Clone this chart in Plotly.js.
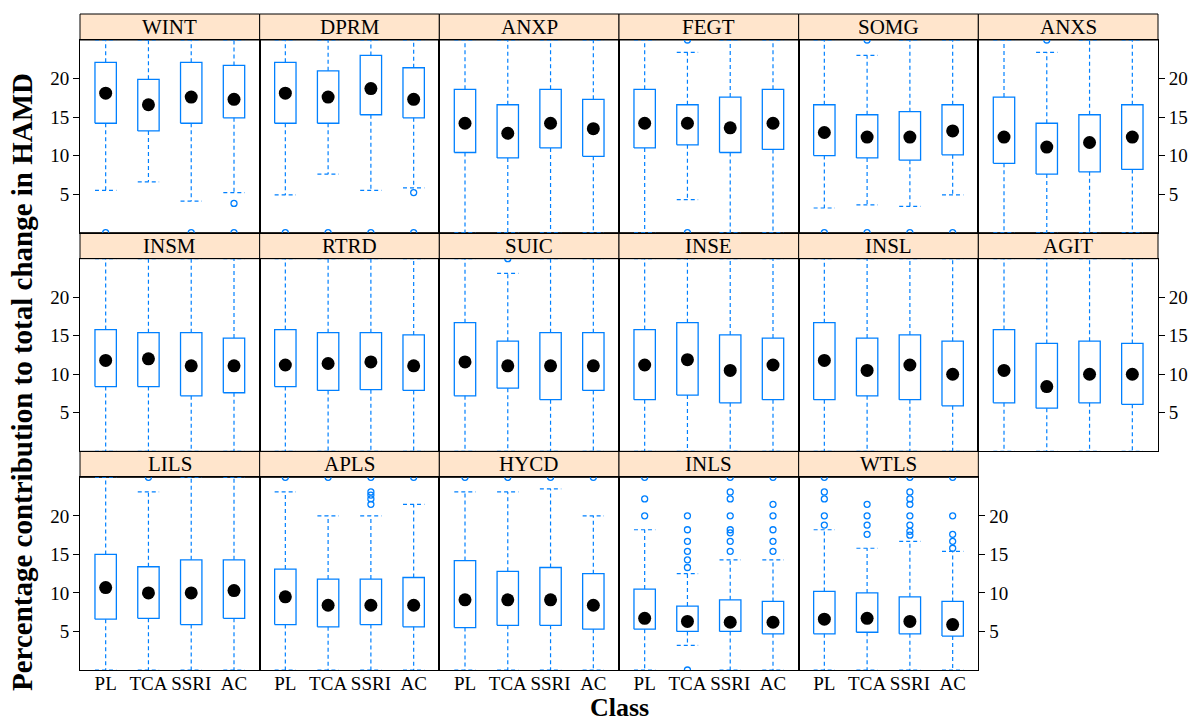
<!DOCTYPE html>
<html><head><meta charset="utf-8">
<script src="https://cdn.plot.ly/plotly-3.0.1.min.js"></script>
<style>html,body{margin:0;padding:0;background:#fff}#chart{width:1195px;height:722px}</style>
</head><body><div id="chart"></div>
<script>
const panels = ['WINT','DPRM','ANXP','FEGT','SOMG','ANXS','INSM','RTRD','SUIC','INSE','INSL','AGIT','LILS','APLS','HYCD','INLS','WTLS'];
const classes = ['PL','TCA','SSRI','AC'];
const yTicks = [5,10,15,20];

const q1 = [
  [14.2,13.2,14.2,14.9],[14.2,14.2,15.3,14.9],[10.4,9.7,11.0,9.9],[11.0,11.4,10.4,10.8],[10.0,9.7,9.4,10.1],[9.0,7.6,7.9,8.2],
  [8.4,8.4,7.2,7.6],[8.4,7.9,8.0,7.9],[7.2,8.2,6.7,7.9],[6.7,7.3,6.3,6.7],[6.7,7.2,6.7,5.9],[6.3,5.6,6.3,6.1],
  [6.6,6.7,5.9,6.7],[5.9,5.6,5.9,5.6],[5.5,5.8,5.8,5.3],[5.3,5.0,5.0,4.7],[4.7,4.9,4.7,4.4]
];
const median = [
  [18.1,16.6,17.6,17.3],[18.1,17.6,18.7,17.3],[14.2,12.9,14.2,13.5],[14.2,14.2,13.6,14.2],[13.0,12.4,12.4,13.2],[12.4,11.1,11.7,12.4],
  [11.8,12.0,11.1,11.1],[11.2,11.4,11.6,11.1],[11.6,11.1,11.1,11.1],[11.2,11.9,10.5,11.2],[11.8,10.5,11.2,10.0],[10.5,8.4,10.0,10.0],
  [10.7,10.0,10.0,10.3],[9.5,8.4,8.4,8.4],[9.1,9.1,9.1,8.4],[6.7,6.3,6.2,6.2],[6.6,6.7,6.3,5.9]
];
const q3 = [
  [22.1,19.9,22.1,21.7],[22.1,21.0,23.0,21.4],[18.6,16.6,18.6,17.3],[18.6,16.6,17.6,18.6],[16.6,15.3,15.7,16.6],[17.6,14.2,15.3,16.6],
  [15.8,15.4,15.4,14.7],[15.8,15.4,15.4,15.1],[16.7,14.3,15.4,15.4],[15.8,16.7,15.1,14.7],[16.7,14.7,15.1,14.3],[15.8,14.0,14.3,14.0],
  [15.0,13.4,14.3,14.3],[13.1,11.8,11.8,12.0],[14.2,12.8,13.3,12.5],[10.5,8.3,9.1,8.9],[10.2,10.0,9.5,8.9]
];
const lowerWhisker = [
  [5.5,6.6,4.1,5.2],[4.9,7.6,5.5,5.8],[0,0,0,0],[0,4.3,0,0],[3.2,3.6,3.4,4.9],[0,0,0,0],
  [0,0,0,0],[0,0,0,0],[0,0,0,0],[0,0,0,0],[0,0,0,0],[0,0,0,0],
  [0,0,0,0],[0,0,0,0],[0,0,0,0],[0,3.2,0,0],[0,0,0,0]
];
const upperWhisker = [
  [25,25,25,25],[25,25,25,25],[25,25,25,25],[25,23.4,25,25],[25,23.0,25,25],[25,23.4,25,25],
  [25,25,25,25],[25,25,25,25],[25,23.1,25,25],[25,25,25,25],[25,25,25,25],[25,25,25,25],
  [25,23.1,25,25],[23.1,20.0,20.0,21.5],[23.1,23.1,23.5,20.0],[18.2,12.5,14.3,14.3],[18.2,15.8,16.7,15.4]
];
const outliers = [
  [[0],[],[0],[3.8,0]],
  [[0],[0],[0],[5.2,0]],
  [[],[],[],[]],
  [[],[25,0],[],[]],
  [[0],[25,0],[0],[0]],
  [[],[25],[],[]],
  [[],[],[],[]],
  [[],[],[],[]],
  [[],[25],[],[]],
  [[],[],[],[]],
  [[],[],[],[]],
  [[],[],[],[]],
  [[],[25],[],[]],
  [[25],[25],[21.5,22.2,22.7,23.1,25],[25]],
  [[25],[25],[25],[25]],
  [[20.0,22.2,25],[13.3,14.3,15.4,16.7,18.2,20.0,0],[15.4,16.7,17.8,18.2,20.0,22.2,23.1,25],[15.4,16.7,18.2,20.0,21.5,25]],
  [[18.8,20.0,22.2,23.1,25],[17.6,18.8,20.0,21.5],[17.5,18.0,18.8,20.0,21.5,22.2,23.1,25],[15.8,16.7,17.6,20.0,25]]
];

const BLUE = '#0080ff';
const FONT = '"Liberation Serif", "Times New Roman", serif';
const HALF = 0.25;
const NCOL = 6, NROW = 3;
const ML = 80, MR = 37, MT = 14, MB = 52, WIDTH = 1195, HEIGHT = 722;
const plotH = HEIGHT - MT - MB;
const stripH = 26 / plotH;
const rowH = 1 / NROW;

const traces = [];
const layout = {
  width: WIDTH, height: HEIGHT,
  margin: {l: ML, r: MR, t: MT, b: MB, pad: 0},
  paper_bgcolor: '#fff', plot_bgcolor: '#fff',
  showlegend: false,
  font: {family: FONT, size: 19, color: '#000'},
  shapes: [], annotations: []
};

panels.forEach((name, p) => {
  const r = Math.floor(p / NCOL), c = p % NCOL;
  const suf = p === 0 ? '' : String(p + 1);
  const xa = 'x' + suf, ya = 'y' + suf;
  const bx = [], by = [], wx = [], wy = [], mx = [], my = [], ox = [], oy = [];
  classes.forEach((cl, i) => {
    const x = i + 1;
    const a = q1[p][i], b = q3[p][i], lo = lowerWhisker[p][i], hi = upperWhisker[p][i];
    bx.push(x - HALF, x + HALF, x + HALF, x - HALF, x - HALF, null);
    by.push(a, a, b, b, a, null);
    wx.push(x, x, null, x, x, null, x - HALF, x + HALF, null, x - HALF, x + HALF, null);
    wy.push(b, hi, null, a, lo, null, hi, hi, null, lo, lo, null);
    mx.push(x); my.push(median[p][i]);
    outliers[p][i].forEach(v => { ox.push(x); oy.push(v); });
  });
  traces.push({type: 'scatter', mode: 'lines', x: wx, y: wy, xaxis: xa, yaxis: ya,
    line: {color: BLUE, width: 1.2, dash: '4px,3px'}, hoverinfo: 'skip'});
  traces.push({type: 'scatter', mode: 'lines', x: bx, y: by, xaxis: xa, yaxis: ya,
    line: {color: BLUE, width: 1.3}, hoverinfo: 'skip'});
  traces.push({type: 'scatter', mode: 'markers', x: ox, y: oy, xaxis: xa, yaxis: ya,
    marker: {symbol: 'circle-open', size: 6, color: BLUE, line: {width: 1.3, color: BLUE}}, hoverinfo: 'skip'});
  traces.push({type: 'scatter', mode: 'markers', x: mx, y: my, xaxis: xa, yaxis: ya,
    marker: {symbol: 'circle', size: 13, color: '#000'}, hoverinfo: 'skip'});

  const y0 = 1 - (r + 1) * rowH;
  const y1 = y0 + rowH - stripH;
  const x0 = c / NCOL, x1 = (c + 1) / NCOL;
  const showX = (r === NROW - 1);
  const isLastInRow = (c === NCOL - 1) || (p === panels.length - 1);
  layout['xaxis' + suf] = {
    domain: [x0, x1], anchor: ya, range: [0.4, 4.6],
    tickvals: [1, 2, 3, 4], ticktext: classes,
    showticklabels: showX, ticks: '', ticklabelstandoff: -4,
    showgrid: false, zeroline: false,
    showline: true, mirror: true, linecolor: '#000', linewidth: 1,
    tickfont: {family: FONT, size: 19, color: '#000'}, fixedrange: true
  };
  const yax = {
    domain: [y0, y1], anchor: xa, range: [0, 25],
    tickvals: yTicks, ticktext: yTicks.map(String),
    showgrid: false, zeroline: false,
    showline: true, mirror: true, linecolor: '#000', linewidth: 1,
    tickfont: {family: FONT, size: 19, color: '#000'}, fixedrange: true,
    showticklabels: false, ticks: ''
  };
  if (c === 0) { yax.side = 'left'; yax.showticklabels = true; yax.ticks = 'outside'; yax.ticklen = 6; yax.tickcolor = '#000'; }
  else if (isLastInRow) { yax.side = 'right'; yax.showticklabels = true; yax.ticks = 'outside'; yax.ticklen = 6; yax.tickcolor = '#000'; }
  layout['yaxis' + suf] = yax;

  layout.shapes.push({type: 'rect', xref: 'paper', yref: 'paper', x0: x0, x1: x1, y0: y1, y1: y1 + stripH,
    fillcolor: '#ffe5cc', line: {color: '#000', width: 1}, layer: 'below'});
  layout.annotations.push({xref: 'paper', yref: 'paper', x: (x0 + x1) / 2, y: y1 + stripH / 2,
    text: name, showarrow: false, xanchor: 'center', yanchor: 'middle',
    font: {family: FONT, size: 21, color: '#000'}});
});

layout.annotations.push({xref: 'paper', yref: 'paper', x: 0.5, y: (plotH - (707 - MT)) / plotH,
  text: '<b>Class</b>', showarrow: false, xanchor: 'center', yanchor: 'middle',
  font: {family: FONT, size: 26, color: '#000'}});
layout.annotations.push({xref: 'paper', yref: 'paper', x: (22 - ML) / (WIDTH - ML - MR), y: (plotH - (382 - MT)) / plotH,
  text: '<b>Percentage contribution to total change in HAMD</b>', showarrow: false, textangle: -90,
  xanchor: 'center', yanchor: 'middle',
  font: {family: FONT, size: 29, color: '#000'}});

Plotly.newPlot('chart', traces, layout, {displayModeBar: false, staticPlot: true});
</script>
</body></html>
